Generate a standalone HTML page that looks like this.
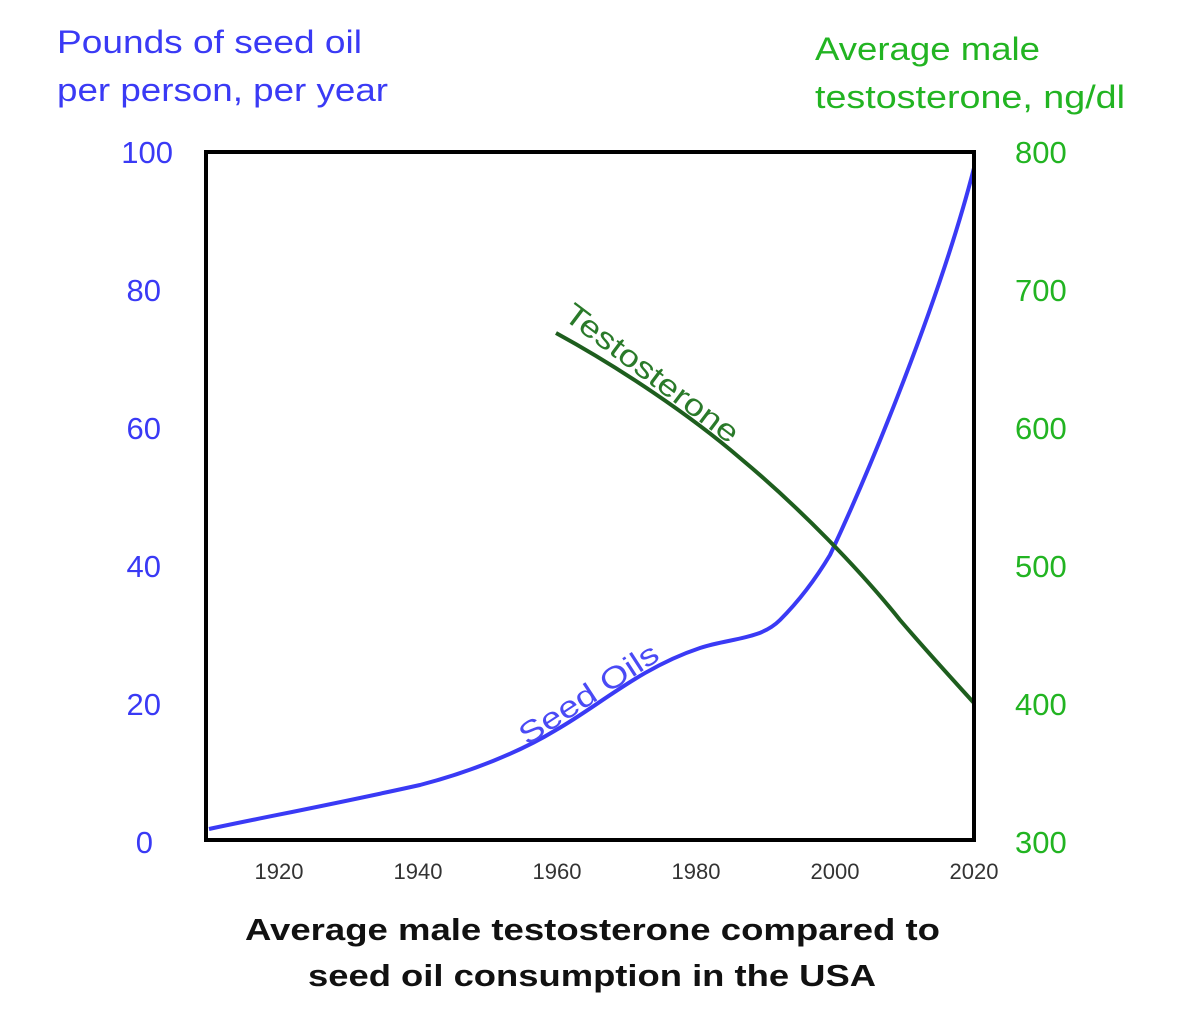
<!DOCTYPE html>
<html><head><style>body{margin:0;background:#fff}svg{display:block}text{font-family:"Liberation Sans",sans-serif}</style></head>
<body>
<svg width="1200" height="1015" viewBox="0 0 1200 1015">
<g fill="#3a3af5" font-size="32">
<text x="57" y="53" textLength="305" lengthAdjust="spacingAndGlyphs">Pounds of seed oil</text>
<text x="57" y="101" textLength="331" lengthAdjust="spacingAndGlyphs">per person, per year</text>
</g>
<g fill="#22b422" font-size="32">
<text x="815" y="60" textLength="225" lengthAdjust="spacingAndGlyphs">Average male</text>
<text x="815" y="108" textLength="310" lengthAdjust="spacingAndGlyphs">testosterone, ng/dl</text>
</g>
<g fill="#3a3af5" font-size="31" text-anchor="end">
<text x="173" y="163">100</text>
<text x="161" y="301">80</text>
<text x="161" y="439">60</text>
<text x="161" y="577">40</text>
<text x="161" y="715">20</text>
<text x="153" y="853">0</text>
</g>
<g fill="#22b422" font-size="31">
<text x="1015" y="163">800</text>
<text x="1015" y="301">700</text>
<text x="1015" y="439">600</text>
<text x="1015" y="577">500</text>
<text x="1015" y="715">400</text>
<text x="1015" y="853">300</text>
</g>
<g fill="#333" font-size="22" text-anchor="middle">
<text x="279" y="879">1920</text>
<text x="418" y="879">1940</text>
<text x="557" y="879">1960</text>
<text x="696" y="879">1980</text>
<text x="835" y="879">2000</text>
<text x="974" y="879">2020</text>
</g>
<g fill="#111" font-size="31" font-weight="bold">
<text x="245" y="940" textLength="695" lengthAdjust="spacingAndGlyphs">Average male testosterone compared to</text>
<text x="308" y="986" textLength="568" lengthAdjust="spacingAndGlyphs">seed oil consumption in the USA</text>
</g>
<path d="M209,829 C260,818 330,805 420,785 C470,772 520,752 556,730 C600,705 640,668 700,648 C730,638 760,640 780,620 C800,600 815,580 830,555 C870,470 940,300 974,168" fill="none" stroke="#3a3af5" stroke-width="4"/>
<path d="M556,333 C620,368 690,415 740,458 C800,508 860,570 900,620 C930,655 955,682 974,703" fill="none" stroke="#1e5e1e" stroke-width="4"/>
<text transform="translate(562,318) rotate(37)" fill="#2a7a2a" font-size="30" textLength="210" lengthAdjust="spacingAndGlyphs">Testosterone</text>
<text transform="translate(527,746) rotate(-33)" fill="#4a4af5" font-size="30" textLength="160" lengthAdjust="spacingAndGlyphs">Seed Oils</text>
<rect x="206" y="152" width="768" height="688" fill="none" stroke="#000" stroke-width="4"/>
</svg>
</body></html>
